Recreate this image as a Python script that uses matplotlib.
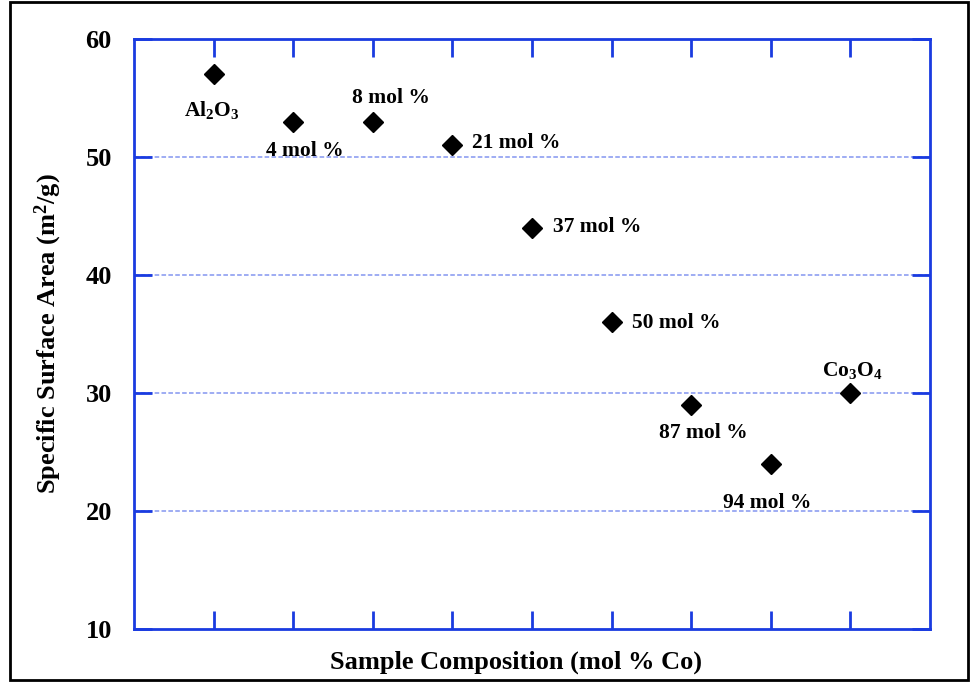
import matplotlib.pyplot as plt
from matplotlib.patches import Rectangle

# sample positions along the composition axis and measured surface area
positions = [1, 2, 3, 4, 5, 6, 7, 8, 9]
surface_area = [57, 53, 53, 51, 44, 36, 29, 24, 30]
labels = ['Al$_2$O$_3$', '4 mol %', '8 mol %', '21 mol %', '37 mol %',
          '50 mol %', '87 mol %', '94 mol %', 'Co$_3$O$_4$']
# label anchor (x, y, horizontal alignment)
label_pos = [(0.98, 54.0, 'center'), (2.15, 50.5, 'center'), (3.23, 55.0, 'center'),
             (4.25, 51.2, 'left'), (5.26, 44.1, 'left'), (6.26, 35.95, 'left'),
             (7.15, 26.6, 'center'), (7.96, 20.7, 'center'), (9.03, 31.9, 'center')]

plt.rcParams['font.family'] = ['Liberation Serif', 'DejaVu Serif']
plt.rcParams['font.weight'] = 'bold'
plt.rcParams['mathtext.fontset'] = 'custom'
plt.rcParams['mathtext.rm'] = 'Liberation Serif:bold'
plt.rcParams['mathtext.default'] = 'rm'

blue = '#1a3be0'

fig = plt.figure(figsize=(9.73, 6.82), dpi=100)
ax = fig.add_axes([134 / 973, 1 - 629 / 682, 796 / 973, 590 / 682])

ax.plot(positions, surface_area, 'D', color='black', markersize=10.5, zorder=3)

for txt, (lx, ly, ha) in zip(labels, label_pos):
    ax.text(lx, ly, txt, ha=ha, va='center', fontsize=15.5, fontweight='bold')

ax.set_xlim(0, 10)
ax.set_ylim(10, 60)
ax.set_xticks(positions)
ax.set_xticklabels([])
ax.set_yticks([10, 20, 30, 40, 50, 60])
ax.tick_params(axis='both', direction='in', length=13, width=2, color=blue,
               top=True, right=True, labelsize=19)
ax.tick_params(axis='y', pad=16)

for s in ax.spines.values():
    s.set_color(blue)
    s.set_linewidth(2)

for yv in [20, 30, 40, 50]:
    ax.axhline(yv, color='#8496f0', linestyle=(0, (3, 1.5)), linewidth=1.1, zorder=1)

ax.set_xlabel('Sample Composition (mol % Co)', fontsize=19, fontweight='bold')
ax.set_ylabel('Specific Surface Area (m$^2$/g)', fontsize=19, fontweight='bold')
ax.xaxis.set_label_coords(0.48, -0.036)
ax.yaxis.set_label_coords(-0.088, 0.5)

# frame around the whole figure
fig.patches.append(Rectangle((10 / 973, 2 / 682), 958 / 973, 678 / 682,
                             transform=fig.transFigure, fill=False,
                             edgecolor='black', linewidth=2))

plt.savefig('out.png', dpi=100)
